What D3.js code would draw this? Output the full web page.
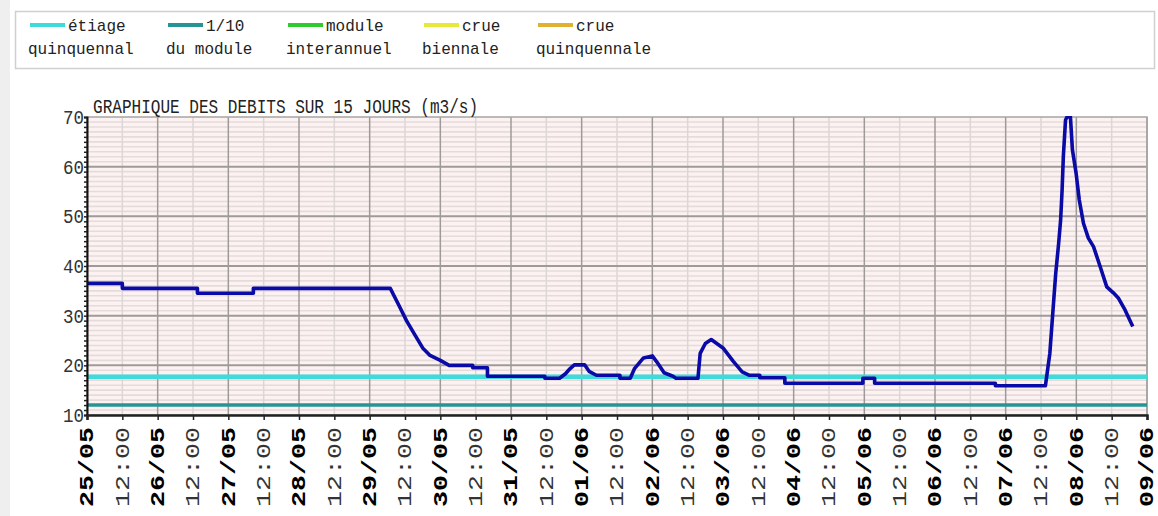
<!DOCTYPE html>
<html><head><meta charset="utf-8">
<script src="https://cdn.jsdelivr.net/npm/d3@7"></script>
<style>
body{margin:0;background:#fff;}
svg{display:block;}
</style></head><body>
<svg id="c" width="1158" height="516"></svg>
<script>
// ---- data ----
const legendTop = ["étiage","1/10","module","crue","crue"];
const legendBottom = ["quinquennal","du module","interannuel","biennale","quinquennale"];
const legendColors = ["#3fdada","#249494","#2ecc2e","#e8e83a","#e0b030"];
const thresholdValues = [17.7, 12.0];      // étiage quinquennal, 1/10 du module
const thresholdColors = ["#3fdada","#249494"];
const yTickValues = [10,20,30,40,50,60,70];
const dayLabels = ["25/05","26/05","27/05","28/05","29/05","30/05","31/05","01/06","02/06","03/06","04/06","05/06","06/06","07/06","08/06","09/06"];
const halfDayLabel = "12:00";
const titleText = "GRAPHIQUE DES DEBITS SUR 15 JOURS (m3/s)";
const times = ["25/05 00:00","25/05 12:00","25/05 12:00","26/05 13:30","26/05 13:30","27/05 08:30","27/05 08:30","29/05 07:00",
 "29/05 10:00","29/05 12:30","29/05 15:00","29/05 18:00","29/05 20:30","30/05 00:00","30/05 03:00","30/05 11:00","30/05 11:00",
 "30/05 16:00","30/05 16:00","31/05 11:30","31/05 11:30","31/05 16:30","31/05 18:30","31/05 20:00","31/05 21:30","01/06 01:00",
 "01/06 02:30","01/06 05:00","01/06 13:00","01/06 13:00","01/06 16:30","01/06 18:00","01/06 20:00","01/06 21:00","02/06 00:00",
 "02/06 01:30","02/06 04:00","02/06 07:00","02/06 08:00","02/06 15:30","02/06 16:15","02/06 18:00","02/06 20:00","03/06 00:00",
 "03/06 03:30","03/06 06:30","03/06 09:00","03/06 12:30","03/06 12:30","03/06 21:00","03/06 21:00","04/06 23:30","04/06 23:30",
 "05/06 03:30","05/06 03:30","06/06 20:30","06/06 20:30","07/06 13:30","07/06 15:00","07/06 16:00","07/06 17:00","07/06 18:00",
 "07/06 18:40","07/06 19:10","07/06 19:35","07/06 20:20","07/06 20:50","07/06 22:00","07/06 22:40","07/06 23:55","08/06 01:00",
 "08/06 02:25","08/06 04:05","08/06 05:50","08/06 08:05","08/06 10:20","08/06 12:35","08/06 14:20","08/06 16:35","08/06 19:10"];
const flows = [36.5,36.5,35.5,35.5,34.5,34.5,35.5,35.5,
 32.0,29.0,26.5,23.5,22.0,21.0,20.0,20.0,19.5,
 19.5,17.8,17.8,17.4,17.4,18.3,19.3,20.1,20.1,
 18.8,18.0,18.0,17.4,17.4,19.4,20.8,21.5,21.9,
 20.7,18.5,17.8,17.4,17.4,22.4,24.4,25.2,23.5,
 20.8,18.7,18.0,18.0,17.5,17.5,16.4,16.4,17.4,
 17.4,16.4,16.4,15.9,15.9,22.4,30.5,38.5,44.6,
 49.3,55.3,62.0,69.4,70.0,70.0,63.4,58.7,53.3,
 48.6,45.6,43.9,39.9,35.8,34.6,33.5,31.1,27.8];

// ---- layout ----
const svg = d3.select("#c");
const L = 87, R = 1147, T = 117, B = 415;
const parse = d3.utcParse("%d/%m %H:%M");
const start = parse(dayLabels[0] + " 00:00");
const end = parse(dayLabels[dayLabels.length-1] + " 00:00");
const x = d3.scaleUtc().domain([start, end]).range([L, R]);
const y = d3.scaleLinear().domain([10, 70]).range([B, T]);
const mono = "'Liberation Mono','DejaVu Sans Mono',monospace";

// left grey strip
svg.append("rect").attr("x",0).attr("y",0).attr("width",10).attr("height",516).attr("fill","#efefef");

// legend box
svg.append("rect").attr("x",15.5).attr("y",11.5).attr("width",1139).attr("height",57)
  .attr("fill","#fff").attr("stroke","#d0d0d0").attr("stroke-width",1.5);
const legendX = [28,166,286,422,536];
legendTop.forEach((t,i)=>{
  const g = svg.append("g").attr("transform",`translate(${legendX[i]},0)`);
  g.append("line").attr("x1",2).attr("x2",37).attr("y1",25).attr("y2",25)
    .attr("stroke",legendColors[i]).attr("stroke-width",4);
  g.append("text").attr("x",40).attr("y",31).attr("font-family",mono).attr("font-size",17)
    .attr("textLength",t.length*9.6).attr("lengthAdjust","spacingAndGlyphs").attr("fill","#222").text(t);
  g.append("text").attr("x",0).attr("y",54).attr("font-family",mono).attr("font-size",17)
    .attr("textLength",legendBottom[i].length*9.6).attr("lengthAdjust","spacingAndGlyphs").attr("fill","#222").text(legendBottom[i]);
});

// plot background
svg.append("rect").attr("x",L).attr("y",T).attr("width",R-L).attr("height",B-T).attr("fill","#fdf2f2");

// minor horizontal grid (every unit)
const minorY = d3.range(11, 70).filter(v => v % 10 !== 0);
svg.append("g").selectAll("line").data(minorY).join("line")
  .attr("x1",L).attr("x2",R).attr("y1",d=>y(d)).attr("y2",d=>y(d))
  .attr("stroke","#e6dbdb").attr("stroke-width",1.6);

// vertical grid
const halfDays = x.ticks(d3.utcHour.every(12));
svg.append("g").selectAll("line").data(halfDays.filter(d=>d.getUTCHours()===12)).join("line")
  .attr("x1",d=>x(d)).attr("x2",d=>x(d)).attr("y1",T).attr("y2",B)
  .attr("stroke","#dcd6d6").attr("stroke-width",1.5);
svg.append("g").selectAll("line").data(halfDays.filter(d=>d.getUTCHours()===0)).join("line")
  .attr("x1",d=>x(d)).attr("x2",d=>x(d)).attr("y1",T).attr("y2",B)
  .attr("stroke","#9e9a9a").attr("stroke-width",1.5);

// major horizontal grid
svg.append("g").selectAll("line").data(yTickValues.slice(1,-1)).join("line")
  .attr("x1",L).attr("x2",R).attr("y1",d=>y(d)).attr("y2",d=>y(d))
  .attr("stroke","#9e9a9a").attr("stroke-width",2);

// border
svg.append("rect").attr("x",L).attr("y",T).attr("width",R-L).attr("height",B-T)
  .attr("fill","none").attr("stroke","#a8a4a4").attr("stroke-width",1.5);

// thresholds
svg.append("g").selectAll("line").data(thresholdValues).join("line")
  .attr("x1",L).attr("x2",R).attr("y1",d=>y(d)).attr("y2",d=>y(d))
  .attr("stroke",(d,i)=>thresholdColors[i]).attr("stroke-width",(d,i)=>i===0?4.5:3.5);

// flow line
const data = times.map((t,i)=>({t:parse(t), v:flows[i]}));
svg.append("defs").append("clipPath").attr("id","clip").append("rect")
  .attr("x",L).attr("y",T-1).attr("width",R-L).attr("height",B-T+1);
svg.append("path").datum(data).attr("clip-path","url(#clip)")
  .attr("d", d3.line().x(d=>x(d.t)).y(d=>y(d.v)))
  .attr("fill","none").attr("stroke","#0a0aa6").attr("stroke-width",3.6).attr("stroke-linejoin","round");

// y axis
const yAxis = svg.append("g").attr("transform",`translate(${L},0)`)
  .call(d3.axisLeft(y).tickValues(d3.range(10,71,1)).tickSize(3).tickFormat(""));
yAxis.select(".domain").attr("stroke","#111").attr("stroke-width",2);
yAxis.selectAll(".tick line").attr("stroke","#222").attr("stroke-width",1.5);
svg.append("g").selectAll("text").data(yTickValues).join("text")
  .attr("x",L-3).attr("y",d=>y(d)+7).attr("text-anchor","end")
  .attr("font-family",mono).attr("font-size",21).attr("textLength",21).attr("lengthAdjust","spacingAndGlyphs")
  .attr("fill","#333").text(d=>d);

// x axis
const xAxis = svg.append("g").attr("transform",`translate(0,${B})`)
  .call(d3.axisBottom(x).ticks(d3.utcHour.every(12)).tickSize(5).tickFormat(""));
xAxis.select(".domain").attr("stroke","#222").attr("stroke-width",2.5);
xAxis.selectAll(".tick line").attr("stroke","#222").attr("stroke-width",1.5);
svg.append("g").selectAll("text").data(halfDays).join("text")
  .attr("transform",d=>`translate(${x(d)},427) rotate(-90)`)
  .attr("text-anchor","end").attr("dy","0.3em")
  .attr("font-family",mono).attr("font-size",21)
  .attr("font-weight",d=>d.getUTCHours()===0?"bold":"normal")
  .attr("textLength",80).attr("lengthAdjust","spacingAndGlyphs")
  .attr("fill",d=>d.getUTCHours()===0?"#000":"#333")
  .text(d=> d.getUTCHours()===0 ? dayLabels[Math.round((d-start)/864e5)] : halfDayLabel);

// title
svg.append("text").attr("x",93).attr("y",113).attr("font-family",mono).attr("font-size",20)
  .attr("textLength",385).attr("lengthAdjust","spacingAndGlyphs").attr("fill","#222").text(titleText);
</script>
</body></html>
